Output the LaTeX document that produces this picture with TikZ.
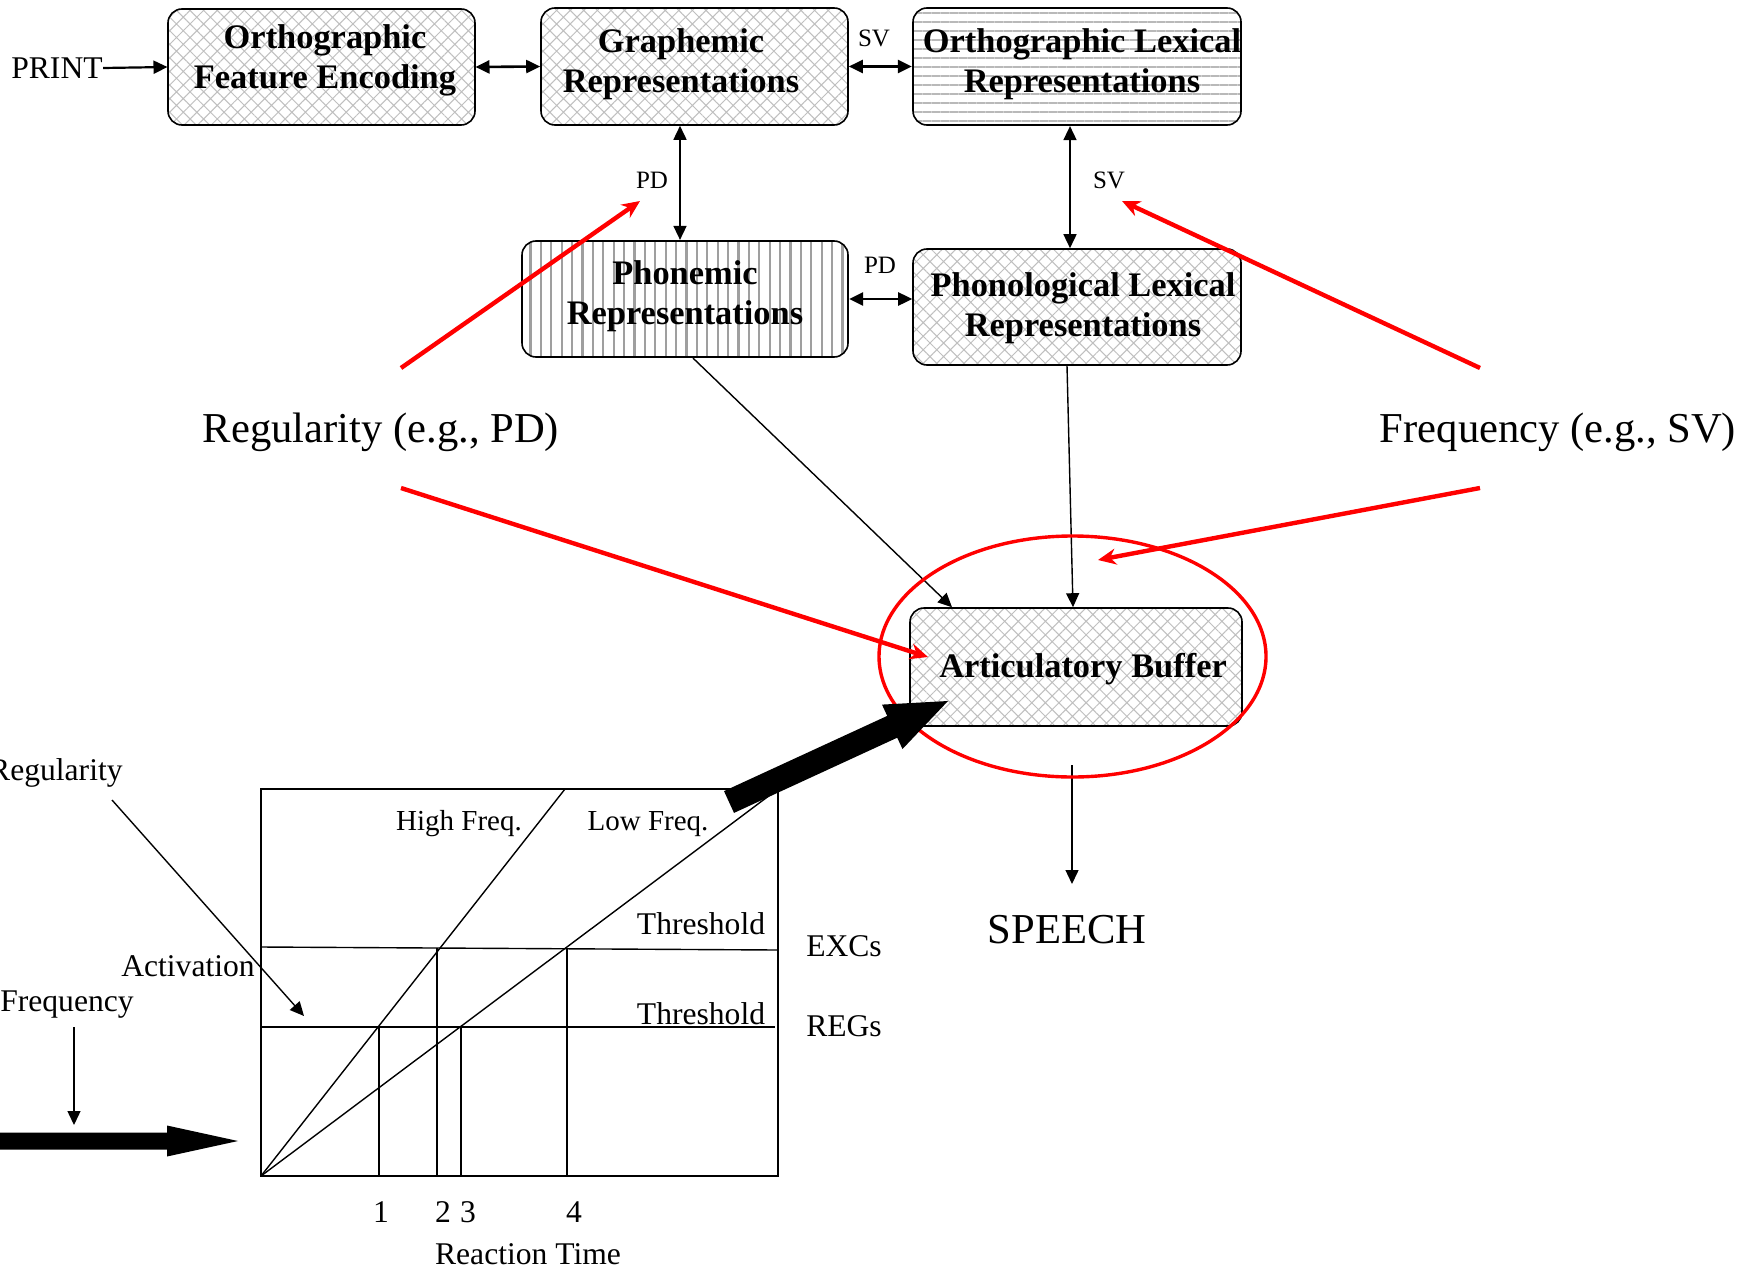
\documentclass[tikz,border=0pt]{standalone}
\usepackage{fontspec}
\setmainfont{Liberation Serif}
\usetikzlibrary{arrows.meta,patterns.meta,shapes.geometric}
\begin{document}
\begin{tikzpicture}[x=0.5pt,y=-0.5pt,
  box/.style={draw, line width=0.8pt, rounded corners=7pt, inner sep=0pt},
  btext/.style={inner sep=0pt, align=center, font=\bfseries\fontsize{17.2}{20}\selectfont},
  xhatch/.style={preaction={fill=white}, pattern={Hatch[angle=45,distance=4.8pt,line width=0.5pt]}, pattern color=gray!50},
  vlines/.style={preaction={fill=white}, pattern={Lines[angle=90,distance=5.2pt,line width=1.1pt]}, pattern color=gray!75},
  hlines/.style={preaction={fill=white}, pattern={Lines[angle=0,distance=4.5pt,line width=1.1pt]}, pattern color=gray!55},
  arr/.style={line width=0.7pt, -{Triangle[length=7pt,width=6.5pt]}},
  parr/.style={line width=1.1pt, -{Triangle[length=7pt,width=6.5pt]}},
  darr/.style={line width=0.8pt, {Triangle[length=7pt,width=6.5pt]}-{Triangle[length=7pt,width=6.5pt]}},
  harr/.style={line width=1.3pt, {Triangle[length=7pt,width=6.5pt]}-{Triangle[length=7pt,width=6.5pt]}},
  rarr/.style={draw=red, line width=2.2pt, -{Stealth[length=9pt,width=8pt]}},
  big/.style={font=\fontsize{21.3}{25}\selectfont, inner sep=0pt},
  lbl/.style={font=\fontsize{15.8}{19}\selectfont, inner sep=0pt},
  flbl/.style={font=\fontsize{14.5}{17}\selectfont, inner sep=0pt},
  sm/.style={font=\fontsize{12.5}{15}\selectfont, inner sep=0pt},
  gl/.style={line width=0.7pt}
]
\useasboundingbox (0,0) rectangle (1748,1273);

% ---- boxes ----
\node[box, xhatch, minimum width=153.5pt, minimum height=58pt] (ofe) at (321.5,67) {};
\node[box, xhatch, minimum width=153.5pt, minimum height=58.5pt] (gr) at (694.5,66.5) {};
\node[box, hlines, minimum width=164pt, minimum height=58.5pt] (olr) at (1077,66.5) {};
\node[box, vlines, minimum width=163pt, minimum height=58pt] (phr) at (685,299) {};
\node[box, xhatch, minimum width=164pt, minimum height=58pt] (plr) at (1077,307) {};
\node[box, xhatch, minimum width=166pt, minimum height=59pt] (ab) at (1076,667) {};

\node[btext] (ofe-t) at (325,60) {Orthographic\\Feature Encoding};
\node[btext] (gr-t) at (681,64) {Graphemic\\Representations};
\node[btext] (olr-t) at (1082,64) {Orthographic Lexical\\Representations};
\node[btext] (phr-t) at (685,296) {Phonemic\\Representations};
\node[btext] (plr-t) at (1083,308) {Phonological Lexical\\Representations};
\node[btext] (ab-t) at (1083,669) {Articulatory Buffer};

% ---- small labels ----
\node[lbl] (print) at (57,68) {PRINT};
\node[sm] (sv1) at (874,38) {SV};
\node[sm] (pd1) at (652,180) {PD};
\node[sm] (sv2) at (1109,180) {SV};
\node[sm] (pd2) at (880,265) {PD};

% ---- black connectors ----
\draw[parr] (print.east) -- (ofe.west);
\draw[harr] (ofe.east) -- (gr.west);
\draw[harr] (gr.east) -- (olr.west);
\draw[darr] (gr.south -| 680,0) -- (phr.north -| 680,0);
\draw[darr] (olr.south -| 1070,0) -- (plr.north -| 1070,0);
\draw[harr] (phr.east) -- (plr.west |- phr.east);
\draw[arr] (phr.south -| 693,0) -- (ab.north -| 952,0);
\draw[arr] (plr.south -| 1067,0) -- (ab.north -| 1073,0);
\coordinate (sp0) at (1072,765);
\coordinate (sp1) at (1072,884);
\draw[arr] (sp0) -- (sp1);
\node[big] (speech) at (1067,930) {SPEECH};

% ---- ellipse ----
\node[draw=red, line width=1.7pt, ellipse, minimum width=193.5pt, minimum height=120.5pt, inner sep=0pt] (ell) at (1072.5,656.5) {};

% ---- big labels and red arrows ----
\node[big] (reg) at (381,432) {Regularity (e.g., PD)};
\node[big] (freq) at (1558,432) {Frequency (e.g., SV)};
\coordinate (r1a) at (401,368);  \coordinate (r1b) at (640,201);
\coordinate (r2a) at (1480,368); \coordinate (r2b) at (1122,201);
\coordinate (r3a) at (401,488);  \coordinate (r3b) at (928,657);
\coordinate (r4a) at (1480,488); \coordinate (r4b) at (1098,560);
\draw[rarr] (r1a) -- (r1b);
\draw[rarr] (r2a) -- (r2b);
\draw[rarr] (r3a) -- (r3b);
\draw[rarr] (r4a) -- (r4b);

% ---- graph ----
\coordinate (o) at (261,1176);
\draw[line width=0.8pt] (261,789) rectangle (778,1176);
\draw[gl] (261,947) -- (778,950);
\draw[gl] (261,1027) -- (775,1027);
\draw[gl] (o) -- (565,789);
\draw[gl] (o) -- (778,789);
\draw[gl] (379,1027) -- (379,1176);
\draw[gl] (437,948) -- (437,1176);
\draw[gl] (461,1027) -- (461,1176);
\draw[gl] (567,948) -- (567,1176);

\node[flbl] (hf) at (459,824) {High Freq.};
\node[flbl] (lf) at (648,824) {Low Freq.};
\node[lbl] (th1) at (701,924) {Threshold};
\node[lbl] (th2) at (701,1014) {Threshold};
\node[lbl] (exc) at (844,946) {EXCs};
\node[lbl] (regs) at (844,1026) {REGs};
\node[lbl] (n1) at (381,1212) {1};
\node[lbl] (n2) at (443,1212) {2};
\node[lbl] (n3) at (468,1212) {3};
\node[lbl] (n4) at (574,1212) {4};
\node[lbl] (rt) at (528,1254) {Reaction Time};
\node[lbl] (act) at (188,966) {Activation};
\node[lbl] (fr) at (67,1005) {Frequency};
\node[lbl, anchor=east] (rg) at (123,773) {Regularity};

\coordinate (ra0) at (112,800); \coordinate (ra1) at (304,1016);
\draw[arr] (ra0) -- (ra1);
\coordinate (fa0) at (74,1027); \coordinate (fa1) at (74,1125);
\draw[arr] (fa0) -- (fa1);

% ---- thick arrows (filled shapes) ----
\coordinate (ta1) at (238,1141);
\fill (0,1132.5) -- (167,1132.5) -- (167,1125.5) -- (ta1) -- (167,1156.5) -- (167,1149.5) -- (0,1149.5) -- cycle;
\coordinate (ba1) at (948,701);
\fill (734.0,812.9) -- (724.0,791.1) -- (887.2,715.9) -- (882.0,704.6) -- (ba1) -- (902.5,749.0) -- (897.2,737.7) -- cycle;
\end{tikzpicture}
\end{document}
